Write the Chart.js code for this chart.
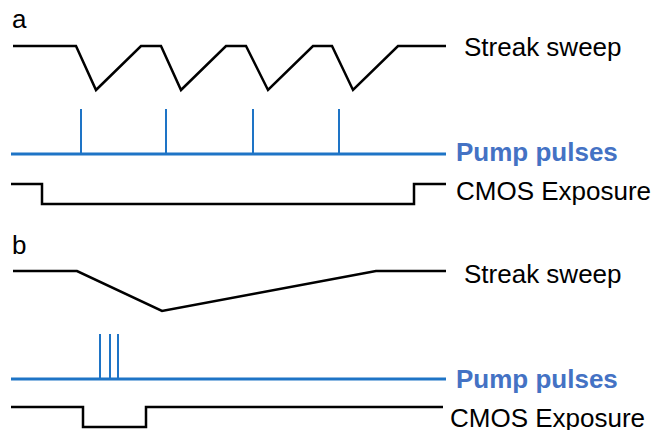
<!DOCTYPE html>
<html>
<head>
<meta charset="utf-8">
<script src="https://cdn.jsdelivr.net/npm/chart.js"></script>
<style>
  body { margin: 0; width: 652px; height: 430px; background: #fff; position: relative; overflow: hidden;
         font-family: "Liberation Sans", Arial, sans-serif; }
  canvas { position: absolute; }
  .lbl { position: absolute; font-size: 26px; line-height: 26px; white-space: nowrap; color: #000; }
  .pump { color: #4472c4; font-weight: bold; }
</style>
</head>
<body>
<div class="lbl" style="left:12px;top:6px;">a</div>
<div class="lbl" style="left:12px;top:232px;">b</div>

<canvas id="sweepA"></canvas>
<canvas id="pulsesA"></canvas>
<canvas id="cmosA"></canvas>
<canvas id="sweepB"></canvas>
<canvas id="pulsesB"></canvas>
<canvas id="cmosB"></canvas>

<div class="lbl" style="left:464px;top:34px;">Streak sweep</div>
<div class="lbl pump" style="left:456px;top:139px;">Pump pulses</div>
<div class="lbl" style="left:456px;top:178px;">CMOS Exposure</div>
<div class="lbl" style="left:464px;top:261px;">Streak sweep</div>
<div class="lbl pump" style="left:456px;top:366px;">Pump pulses</div>
<div class="lbl" style="left:450px;top:405px;">CMOS Exposure</div>

<script>
// time in arbitrary units, level 0 = low, 1 = high
const tEnd = 87;

// panel a: repeated sweeps, one pump pulse per sweep
const sweepA_t = [0.4, 13, 17, 26, 30, 34, 43, 47, 51.4, 60.4, 64.2, 68.4, 77.4, 87];
const sweepA_v = [1, 1, 0, 1, 1, 0, 1, 1, 0, 1, 1, 0, 1, 1];
const pulsesA_t = [14, 31, 48.4, 65.6];
const cmosA_t = [0, 6.2, 6.2, 80.6, 80.6, 87];
const cmosA_v = [1, 1, 0, 0, 1, 1];

// panel b: single slow sweep, burst of pulses
const sweepB_t = [0.4, 13.2, 30.2, 73, 87];
const sweepB_v = [1, 1, 0, 1, 1];
const pulsesB_t = [17.8, 19.8, 21.4];
const cmosB_t = [0, 14.4, 14.4, 27, 27, 86.4];
const cmosB_v = [1, 1, 0, 0, 1, 1];

const black = '#000000';
const blue = '#1e74c6';

function pts(ts, vs) {
  return ts.map((t, i) => ({ x: t, y: vs[i] }));
}

function pulsePts(ts) {
  const out = [];
  ts.forEach(t => { out.push({ x: t, y: 0 }, { x: t, y: 1 }, { x: t, y: null }); });
  return out;
}

// place a small chart so that level 1 sits at y=top and level 0 at y=top+h
function trace(id, top, h, datasets) {
  const pad = 4;
  const c = document.getElementById(id);
  c.width = 435; c.height = h + 2 * pad;
  c.style.left = '11px'; c.style.top = (top - pad) + 'px';
  c.style.width = '435px'; c.style.height = (h + 2 * pad) + 'px';
  return new Chart(c, {
    type: 'scatter',
    data: { datasets: datasets },
    options: {
      responsive: false,
      animation: false,
      devicePixelRatio: 1,
      layout: { padding: { top: pad, bottom: pad, left: 0, right: 0 } },
      plugins: { legend: { display: false }, tooltip: { enabled: false } },
      elements: { point: { radius: 0 }, line: { tension: 0, borderCapStyle: 'butt', borderJoinStyle: 'miter' } },
      scales: {
        x: { type: 'linear', min: 0, max: tEnd, display: false },
        y: { type: 'linear', min: 0, max: 1, display: false }
      }
    }
  });
}

function line(data, color, w) {
  return { data: data, showLine: true, borderColor: color, borderWidth: w, spanGaps: false, clip: false };
}

trace('sweepA', 46, 44, [line(pts(sweepA_t, sweepA_v), black, 2.5)]);
trace('pulsesA', 109, 45, [
  line(pts([0, tEnd], [0, 0]), blue, 3),
  line(pulsePts(pulsesA_t), blue, 2)
]);
trace('cmosA', 184, 20, [line(pts(cmosA_t, cmosA_v), black, 2.5)]);

trace('sweepB', 271, 40, [line(pts(sweepB_t, sweepB_v), black, 2.5)]);
trace('pulsesB', 334, 45, [
  line(pts([0, tEnd], [0, 0]), blue, 3),
  line(pulsePts(pulsesB_t), blue, 2)
]);
trace('cmosB', 407, 20, [line(pts(cmosB_t, cmosB_v), black, 2.5)]);
</script>
</body>
</html>
